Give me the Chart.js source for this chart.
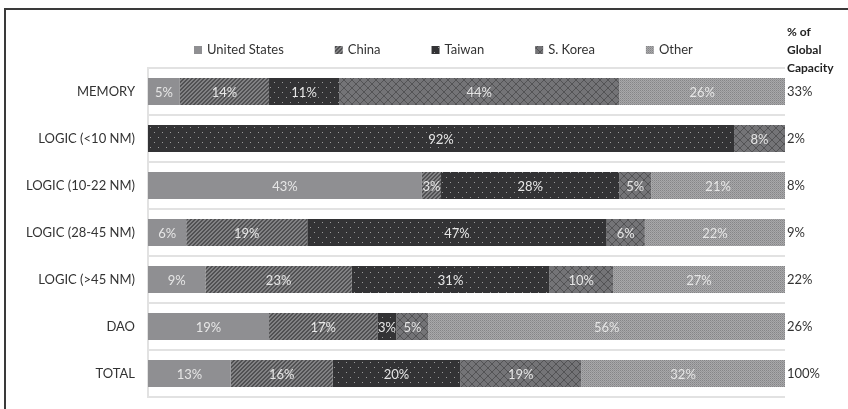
<!DOCTYPE html>
<html><head><meta charset="utf-8">
<script src="https://cdn.jsdelivr.net/npm/chart.js@4"></script>
<style>
html,body{margin:0;padding:0;background:#fff;}
#wrap{position:relative;width:848px;height:409px;overflow:hidden;}
#frame{position:absolute;left:4px;top:8px;width:860px;height:420px;border-top:2px solid #3a3a3a;border-left:2px solid #3a3a3a;pointer-events:none;}
canvas{position:absolute;left:0;top:0;}
</style></head>
<body><div id="wrap"><canvas id="c" width="848" height="409"></canvas><div id="frame"></div></div>
<script>
const categories = ["MEMORY","LOGIC (<10 NM)","LOGIC (10-22 NM)","LOGIC (28-45 NM)","LOGIC (>45 NM)","DAO","TOTAL"];
const capacityShare = ["33%","2%","8%","9%","22%","26%","100%"];
const seriesNames = ["United States","China","Taiwan","S. Korea","Other"];
const unitedStates = [5,0,43,6,9,19,13];
const china = [14,0,3,19,23,17,16];
const taiwan = [11,92,28,47,31,3,20];
const sKorea = [44,8,5,6,10,5,19];
const other = [26,0,21,22,27,56,32];
const headerLines = ["% of","Global","Capacity"];

function tile(w,h,draw){const c=document.createElement('canvas');c.width=w;c.height=h;const x=c.getContext('2d');draw(x);return x.createPattern(c,'repeat');}
const patUS='#8f8f92';
const patChina=tile(4,4,x=>{x.fillStyle='#515153';x.fillRect(0,0,4,4);x.fillStyle='#828284';for(let i=0;i<4;i++){x.fillRect(3-i,i,1,1);x.fillRect((4-i)%4,i,1,1);} });
const patTaiwan=tile(8,10,x=>{x.fillStyle='#333335';x.fillRect(0,0,8,10);x.fillStyle='#9a9a9a';x.fillRect(2,2,1,1);x.fillRect(6,7,1,1);});
const patKorea=tile(8,8,x=>{x.fillStyle='#747477';x.fillRect(0,0,8,8);x.fillStyle='#535355';for(let i=0;i<8;i++){x.fillRect(i,i,1,1);x.fillRect(7-i,i,1,1);} });
const patOther=tile(2,2,x=>{x.fillStyle='#a8a8aa';x.fillRect(0,0,2,2);x.fillStyle='#858587';x.fillRect(0,0,1,1);x.fillStyle='#959597';x.fillRect(1,1,1,1);});
const fills=[patUS,patChina,patTaiwan,patKorea,patOther];
const values=[unitedStates,china,taiwan,sKorea,other];

const FONT='Lato, sans-serif';

const labelsPlugin={id:'lbl',
 afterDatasetsDraw(chart){
  const ctx=chart.ctx;ctx.save();
  ctx.font='13px '+FONT;ctx.fillStyle='#e6e6e6';ctx.textAlign='center';ctx.textBaseline='middle';
  chart.data.datasets.forEach((ds,di)=>{
    const meta=chart.getDatasetMeta(di);
    meta.data.forEach((bar,i)=>{const v=ds.data[i];if(!v)return;
      ctx.fillText(v+'%',(bar.x+bar.base)/2,bar.y+1);});
  });
  // legend
  const a=chart.chartArea;
  ctx.font='13px '+FONT;ctx.textAlign='left';
  const box=8,gap=5,spacing=51;
  let x=a.left+46;const y=50;
  chart.data.datasets.forEach((d,i)=>{
    ctx.fillStyle=d.backgroundColor;ctx.fillRect(x,y-4,box,box);
    ctx.fillStyle='#333';ctx.fillText(d.label,x+box+gap,y);
    x+=box+gap+ctx.measureText(d.label).width+spacing;
  });
  // header
  ctx.font='bold 12px '+FONT;ctx.fillStyle='#222';
  headerLines.forEach((t,i)=>ctx.fillText(t,a.right+2,32+i*18));
  ctx.restore();
 }};

new Chart(document.getElementById('c'),{
 type:'bar',
 data:{labels:categories,
  datasets:seriesNames.map((n,i)=>({label:n,data:values[i],backgroundColor:fills[i],borderWidth:0,categoryPercentage:1,barPercentage:0.575}))},
 options:{indexAxis:'y',responsive:false,animation:false,
  layout:{padding:{left:5,right:0,top:68,bottom:12}},
  plugins:{legend:{display:false},tooltip:{enabled:false}},
  scales:{
   x:{stacked:true,min:0,max:100,display:false},
   y:{stacked:true,position:'left',offset:true,
      grid:{offset:true,color:'#e2e2e2',lineWidth:2,drawTicks:false},
      border:{display:true,color:'#e2e2e2',width:2},
      ticks:{padding:13,color:'#333',font:{family:FONT,size:13}},
      afterFit(s){s.width=143;s.paddingTop=0;s.paddingBottom=0;}},
   y2:{position:'right',type:'category',labels:capacityShare,offset:true,
      grid:{display:false,drawTicks:false},border:{display:false},
      ticks:{padding:2,color:'#333',font:{family:FONT,size:13}},
      afterFit(s){s.width=63;s.paddingTop=0;s.paddingBottom=0;}}
  }},
 plugins:[labelsPlugin]
});
</script></body></html>
